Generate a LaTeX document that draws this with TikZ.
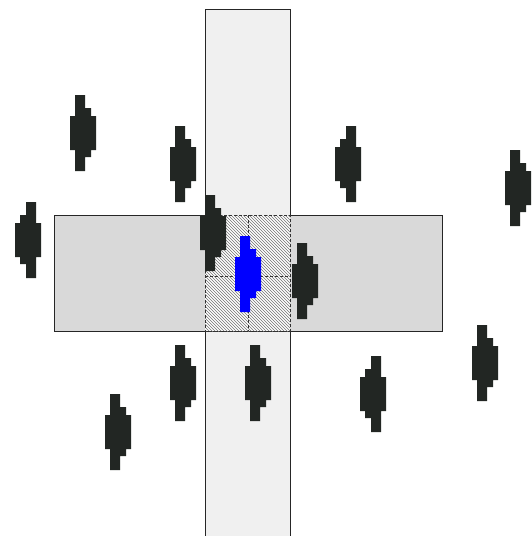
\documentclass[tikz,border=0pt]{standalone}
\usepackage{xcolor}
\usetikzlibrary{patterns}

\definecolor{bugdark}{RGB}{34,38,35}
\definecolor{roadlight}{RGB}{240,240,240}
\definecolor{roadgrey}{RGB}{217,217,217}

\begin{document}
\begin{tikzpicture}[
        x=1pt, y=-1pt,
        road/.style={draw=black!85, line width=0.9pt},
        crossing/.style={draw=black!80, dash pattern=on 3pt off 2pt, line width=0.7pt},
        bugR/.pic={\fill[#1] (5,0) -- (15,0) -- (15,13) -- (21,13) -- (21,21) -- (26,21) -- (26,55) -- (21,55) -- (21,62) -- (15,62) -- (15,76) -- (5,76) -- (5,55) -- (0,55) -- (0,21) -- (5,21) -- cycle;},
        bugL/.pic={\fill[#1] (11,0) -- (21,0) -- (21,21) -- (26,21) -- (26,55) -- (21,55) -- (21,76) -- (11,76) -- (11,62) -- (5,62) -- (5,55) -- (0,55) -- (0,21) -- (5,21) -- (5,13) -- (11,13) -- cycle;}
    ]
    \useasboundingbox (0,0) rectangle (531,536);
    % vertical strip
    \fill[roadlight] (205,9) rectangle (290,540);
    \draw[road] (205,540) -- (205,9) -- (290,9) -- (290,540);
    % horizontal strip
    \filldraw[road, fill=roadgrey] (54,215) rectangle (442,331);
    % crossing
    \fill[white] (205,215) rectangle (290,331);
    \fill[pattern=north west lines, pattern color=black!55] (205,215) rectangle (290,331);
    \draw[crossing] (205,215) rectangle (290,331);
    \draw[crossing] (248,215) -- (248,331);
    \draw[crossing] (205,276) -- (290,276);
    
    % bugs
    \pic at (70,95) {bugR=bugdark};
    \pic at (15,202) {bugL=bugdark};
    \pic at (170,126) {bugR=bugdark};
    \pic at (335,126) {bugL=bugdark};
    \pic at (505,150) {bugR=bugdark};
    \pic at (200,195) {bugR=bugdark};
    \pic at (235,236) {bugR=blue};
    \pic at (292,243) {bugR=bugdark};
    \pic at (170,345) {bugR=bugdark};
    \pic at (245,345) {bugR=bugdark};
    \pic at (360,356) {bugL=bugdark};
    \pic at (472,325) {bugR=bugdark};
    \pic at (105,394) {bugR=bugdark};
\end{tikzpicture}
\end{document}
